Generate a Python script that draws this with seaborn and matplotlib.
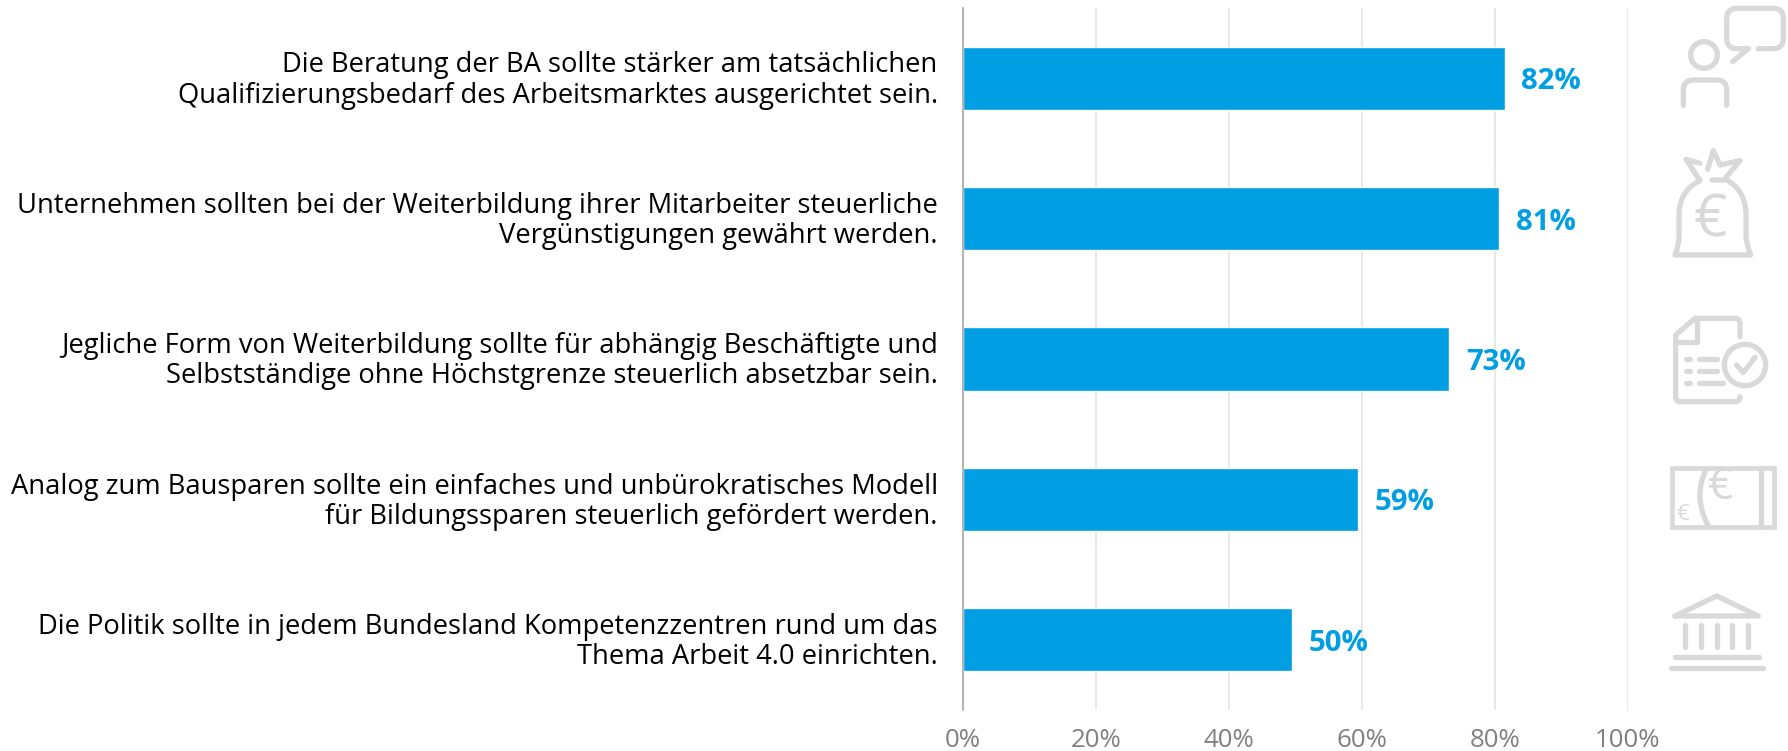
#!/usr/bin/env python3

import pandas as pd
import matplotlib
matplotlib.use("Agg")
import matplotlib.pyplot as plt
from matplotlib.path import Path
from matplotlib.patches import PathPatch, Circle, Rectangle
from matplotlib.transforms import ScaledTranslation
import seaborn as sns

statements = [
    "Die Beratung der BA sollte stärker am tatsächlichen\nQualifizierungsbedarf des Arbeitsmarktes ausgerichtet sein.",
    "Unternehmen sollten bei der Weiterbildung ihrer Mitarbeiter steuerliche\nVergünstigungen gewährt werden.",
    "Jegliche Form von Weiterbildung sollte für abhängig Beschäftigte und\nSelbstständige ohne Höchstgrenze steuerlich absetzbar sein.",
    "Analog zum Bausparen sollte ein einfaches und unbürokratisches Modell\nfür Bildungssparen steuerlich gefördert werden.",
    "Die Politik sollte in jedem Bundesland Kompetenzzentren rund um das\nThema Arbeit 4.0 einrichten.",
]
values = [81.5, 80.7, 73.2, 59.5, 49.5]
value_labels = ["82%", "81%", "73%", "59%", "50%"]
x_ticks = [0, 20, 40, 60, 80, 100]
x_tick_labels = ["0%", "20%", "40%", "60%", "80%", "100%"]

BLUE = "#009FE3"
ICON = "#D9D9D9"
W, H = 1788, 751

sns.set_theme(style="whitegrid")
plt.rcParams["font.family"] = ["Open Sans", "DejaVu Sans"]

df = pd.DataFrame({"statement": statements, "value": values})

fig = plt.figure(figsize=(W / 100, H / 100), dpi=100)
ax = fig.add_axes([962.7 / W, 1 - 710 / H, 665 / W, 702 / H])

sns.barplot(data=df, y="statement", x="value", color=BLUE, saturation=1, width=0.45, ax=ax, zorder=3)

ax.set_xlim(0, 100)
ax.set_ylim(4.5, -0.5)
ax.set_xlabel("")
ax.set_ylabel("")
ax.set_xticks(x_ticks)
ax.set_xticklabels(x_tick_labels, fontsize=18.6, color="#808080")
ax.tick_params(axis="x", length=0, pad=13)
ax.tick_params(axis="y", length=0, pad=18)
nudge = ScaledTranslation(0, 2.2 / 100, fig.dpi_scale_trans)
for lab in ax.get_yticklabels():
    lab.set_fontsize(19.75)
    lab.set_color("black")
    lab.set_multialignment("right")
    lab.set_linespacing(1.1)
    lab.set_transform(lab.get_transform() + nudge)

ax.grid(axis="y", visible=False)
ax.grid(axis="x", color="#E2E2E2", linewidth=1.1)
for side in ["top", "right", "bottom"]:
    ax.spines[side].set_visible(False)
ax.spines["left"].set_color("#A6A6A6")
ax.spines["left"].set_linewidth(1.2)
ax.spines["left"].set_zorder(4)

bar_texts = ax.bar_label(ax.containers[0], labels=value_labels, padding=12, color=BLUE,
                         fontsize=21.2, fontweight="bold")
for t in bar_texts:
    t.set_va("center_baseline")

# icons on the right, drawn on an overlay in pixel coords
overlay = fig.add_axes([0, 0, 1, 1], facecolor="none")
overlay.set_xlim(0, W)
overlay.set_ylim(H, 0)
overlay.axis("off")


def stroke(segments, oy=0, lw=3.8):
    verts, codes = [], []
    for seg in segments:
        if seg[0] == "M":
            verts.append((seg[1], seg[2]))
            codes.append(Path.MOVETO)
        elif seg[0] == "L":
            verts.append((seg[1], seg[2]))
            codes.append(Path.LINETO)
        else:
            verts += [(seg[1], seg[2]), (seg[3], seg[4])]
            codes += [Path.CURVE3, Path.CURVE3]
    verts = [(1580 + x / 3, oy + y / 3) for x, y in verts]
    overlay.add_patch(PathPatch(Path(verts, codes), fill=False, edgecolor=ICON, lw=lw,
                                capstyle="round", joinstyle="round"))


def ring(x, y, r, oy=0, lw=3.8):
    overlay.add_patch(Circle((1580 + x / 3, oy + y / 3), r / 3, fill=False, edgecolor=ICON, lw=lw))


def euro(x, y, size, oy=0):
    overlay.text(1580 + x / 3, oy + y / 3, "€", color=ICON, fontsize=size, ha="center", va="center")


# person with speech bubble
ring(372, 165, 40)
stroke([("M", 310, 316), ("L", 310, 270), ("Q", 310, 240, 340, 240), ("L", 410, 240),
        ("Q", 440, 240, 440, 270), ("L", 440, 316)])
stroke([("M", 535, 146), ("L", 580, 146), ("Q", 610, 146, 610, 116), ("L", 610, 55),
        ("Q", 610, 25, 580, 25), ("L", 470, 25), ("Q", 440, 25, 440, 55), ("L", 440, 116),
        ("Q", 440, 146, 470, 146), ("L", 505, 146), ("L", 458, 185)])

# money bag
stroke([("M", 396, 540), ("L", 440, 540), ("Q", 495, 570, 498, 640), ("L", 498, 710),
        ("Q", 500, 735, 512, 765), ("L", 285, 765), ("Q", 297, 735, 297, 710), ("L", 297, 640),
        ("Q", 300, 570, 360, 542), ("L", 318, 478), ("L", 360, 490)])
stroke([("M", 383, 508), ("L", 400, 452), ("L", 420, 495), ("L", 480, 482), ("L", 437, 533)])
euro(392, 665, 42)

# document with check mark
stroke([("M", 480, 1010), ("L", 480, 970), ("Q", 480, 955, 465, 955), ("L", 345, 955),
        ("L", 287, 1005), ("L", 287, 1190), ("Q", 287, 1205, 302, 1205), ("L", 465, 1205),
        ("Q", 480, 1205, 480, 1190)])
stroke([("M", 352, 960), ("L", 352, 1025), ("L", 292, 1025)])
for row, end in zip([1076, 1112, 1148], [410, 410, 430]):
    stroke([("M", 317, row), ("L", 329, row)])
    stroke([("M", 356, row), ("L", end, row)])
ring(495, 1095, 62)
stroke([("M", 470, 1095), ("L", 490, 1118), ("L", 525, 1072)])

# banknote
overlay.add_patch(Rectangle((1580 + 275 / 3, 400 + 205 / 3), 308 / 3, 177 / 3, fill=False,
                            edgecolor=ICON, lw=3.4))
stroke([("M", 543, 205), ("L", 543, 382)], oy=400)
stroke([("M", 378, 210), ("Q", 338, 290, 385, 378)], oy=400)
euro(422, 262, 32, oy=400)
euro(307, 345, 16, oy=400)

# bank building
stroke([("M", 285, 648), ("L", 410, 588), ("L", 535, 648), ("L", 285, 648)], oy=400)
for col in [316, 363, 410, 457, 504]:
    stroke([("M", col, 675), ("L", col, 742)], oy=400)
stroke([("M", 285, 771), ("L", 537, 771)], oy=400)
stroke([("M", 272, 803), ("L", 550, 803)], oy=400)

fig.savefig("out.png", dpi=100, facecolor="white")
print("saved out.png")
